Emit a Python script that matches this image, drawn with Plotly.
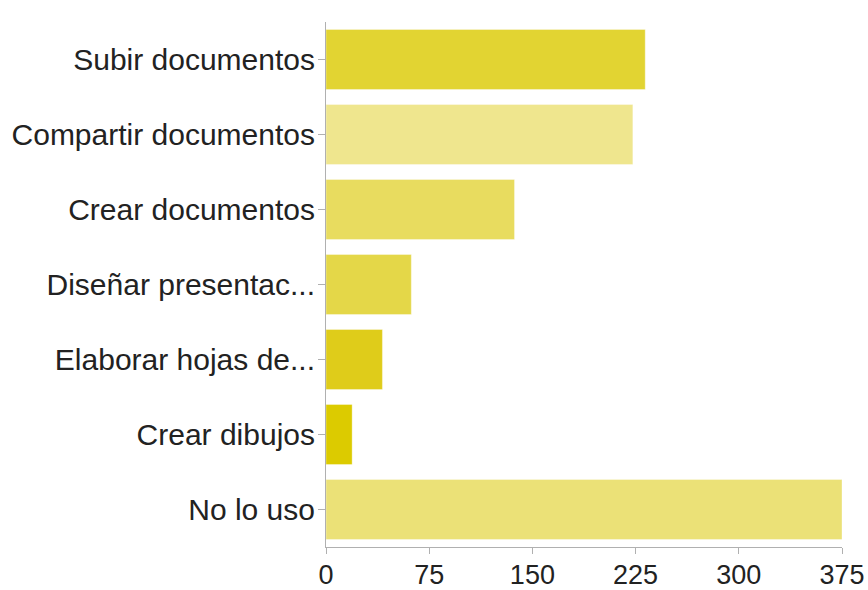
import plotly.graph_objects as go

categories = ["Subir documentos", "Compartir documentos", "Crear documentos",
              "Diseñar presentac...", "Elaborar hojas de...", "Crear dibujos", "No lo uso"]
values = [232, 223, 137, 62, 41, 19, 375]
colors = ["#e2d432", "#efe68e", "#e8dc5f", "#e4d748", "#dfcc1a", "#dccb00", "#ebe177"]
x_ticks = [0, 75, 150, 225, 300, 375]

fig = go.Figure(go.Bar(
    x=values, y=categories, orientation="h",
    marker=dict(color=colors, line=dict(color="rgba(255,255,255,0.35)", width=1)),
    width=0.8,
))

fig.update_layout(
    width=868, height=590,
    margin=dict(l=326, r=26, t=22, b=43),
    plot_bgcolor="white", paper_bgcolor="white",
    font=dict(family="Liberation Sans, Arial, sans-serif", size=28, color="#222"),
    showlegend=False,
    bargap=0.2,
)
fig.update_xaxes(
    range=[0, 375], tickvals=x_ticks, showgrid=False, zeroline=False,
    showline=True, linecolor="#b0b0b0", linewidth=1,
    ticks="outside", ticklen=6, tickcolor="#b0b0b0",
    tickfont=dict(size=27, color="#222"), automargin=False,
    ticklabelstandoff=-2,
)
fig.update_yaxes(
    categoryorder="array", categoryarray=categories[::-1],
    range=[-0.5, 6.5],
    showgrid=False, zeroline=False,
    showline=True, linecolor="#b0b0b0", linewidth=1,
    ticks="outside", ticklen=7, tickcolor="#b0b0b0",
    tickfont=dict(size=30, color="#222"), automargin=False,
    ticklabelstandoff=-3,
)

fig.write_html(
    "out.html",
    config={"displayModeBar": False},
    post_script="document.body.style.margin='0';document.body.style.overflow='hidden';",
)
